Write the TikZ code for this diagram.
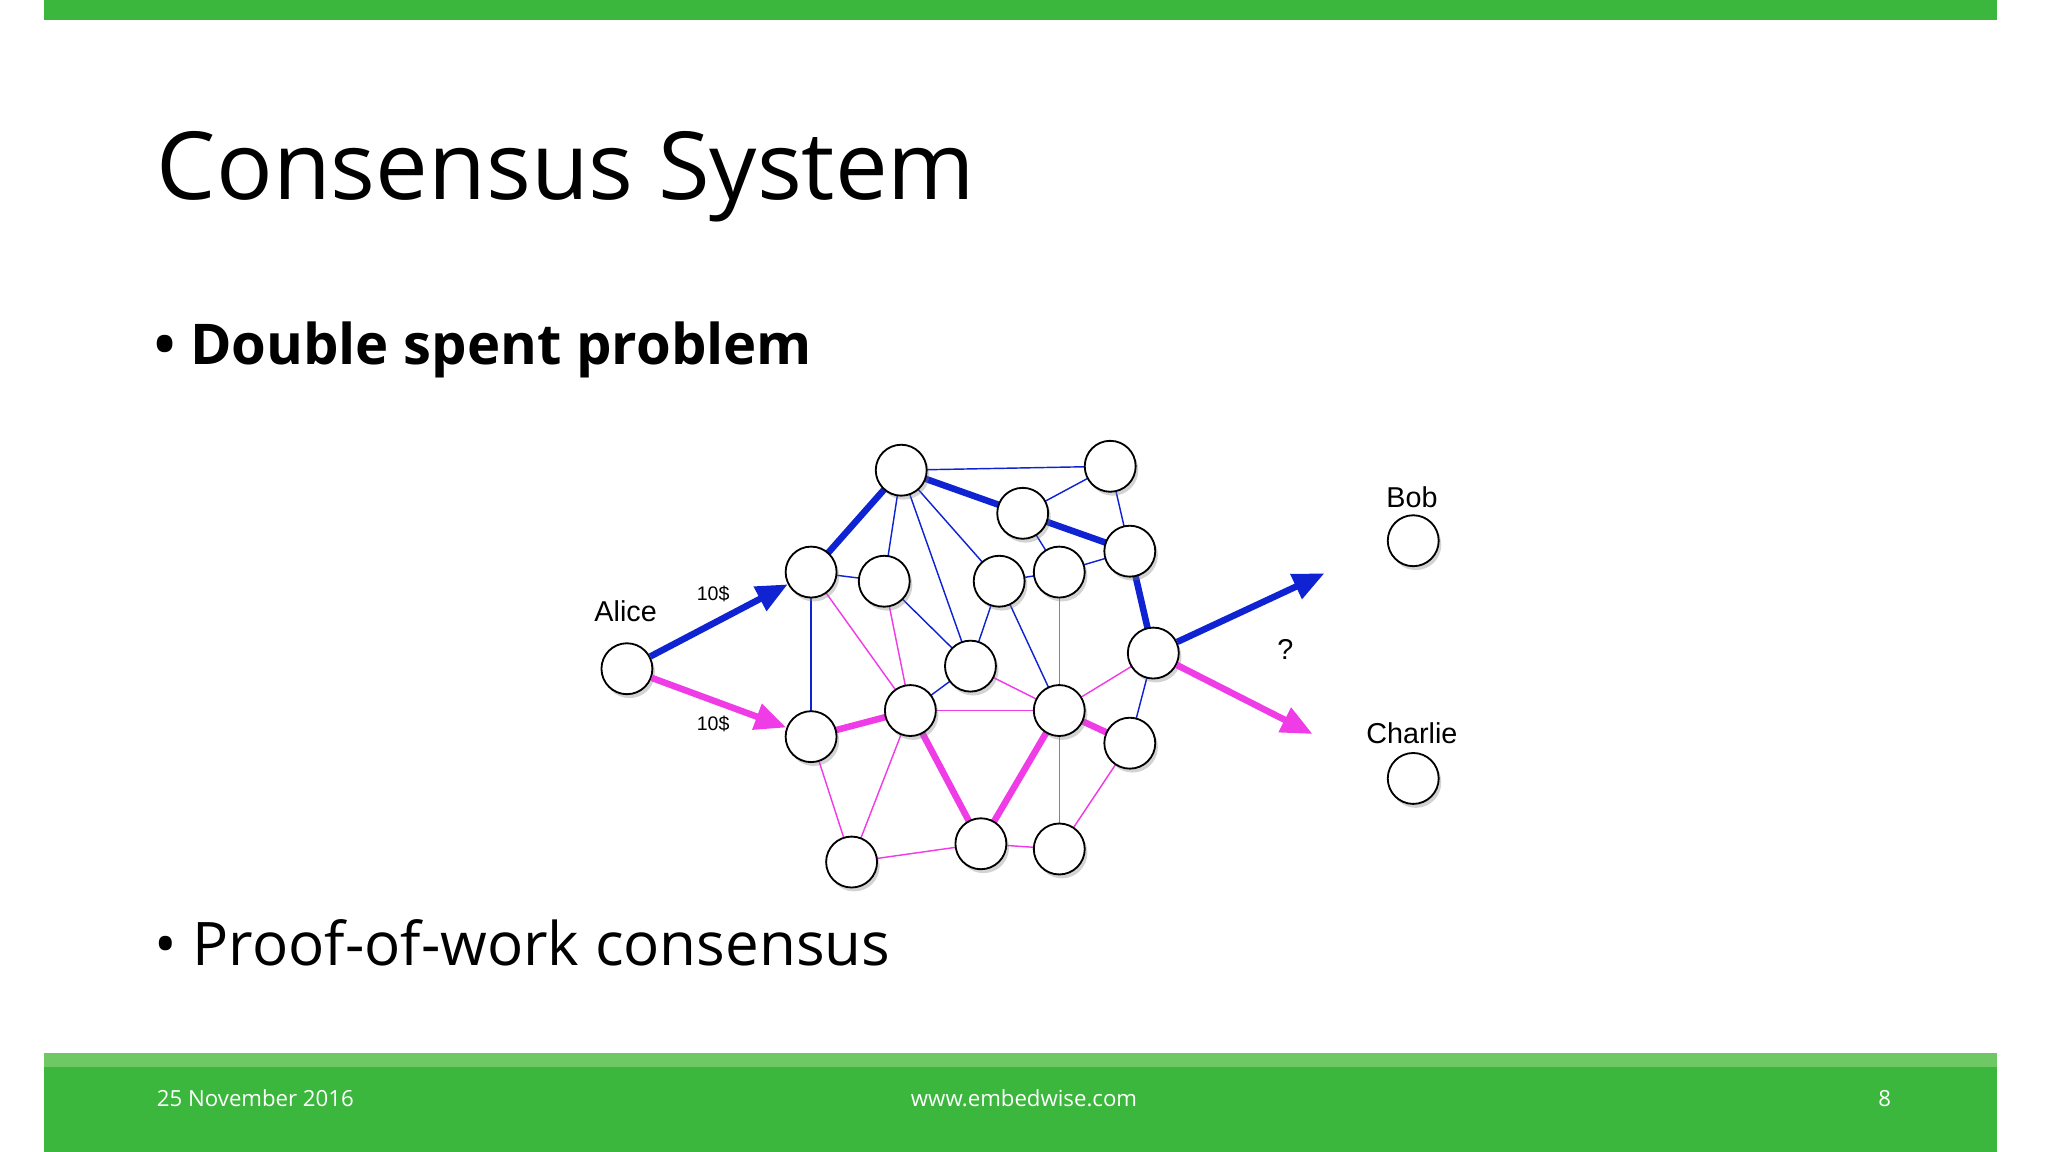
\documentclass[tikz,border=0pt]{standalone}
\usepackage{fontspec}
\setmainfont{Open Sans}
\newfontfamily\helv{Liberation Sans}
\usetikzlibrary{shadows,arrows.meta}
\definecolor{gbar}{RGB}{58,183,60}
\definecolor{gbarl}{RGB}{110,200,100}
\definecolor{nblue}{RGB}{15,35,210}
\definecolor{npink}{RGB}{240,60,230}
\tikzset{
 nd/.style={circle,draw=black,line width=1.4pt,fill=white,minimum size=39pt,inner sep=0pt,drop shadow={shadow xshift=2pt,shadow yshift=-3pt,opacity=0.35}},
 bt/.style={nblue,line width=1.1pt},
 bT/.style={nblue,line width=5pt},
 pt/.style={npink,line width=1.1pt},
 pT/.style={npink,line width=5pt},
 lbl/.style={font=\helv\fontsize{22}{25}\selectfont,inner sep=0pt},
 sml/.style={font=\helv\fontsize{15}{18}\selectfont,inner sep=0pt},
 arr/.style={-{Triangle[length=24pt,width=20pt]}}
}
\begin{document}
\begin{tikzpicture}[x=1pt,y=-1pt]
\useasboundingbox (0,0) rectangle (1568,882);
\fill[gbar] (34,0) rectangle (1529,15);
\fill[gbarl] (34,806) rectangle (1529,817);
\fill[gbar] (34,817) rectangle (1529,882);
\node[anchor=base west,inner sep=0pt,font=\fontsize{72}{80}\selectfont] (title) at (120,153) {Consensus System};
\node[anchor=base west,inner sep=0pt,font=\bfseries\fontsize{43}{50}\selectfont] (b1) at (118,279) {\textbullet\ Double spent problem};
\node[anchor=base west,inner sep=0pt,font=\fontsize{46}{50}\selectfont] (b2) at (118,739) {\textbullet\ Proof-of-work consensus};
\node[anchor=base west,inner sep=0pt,text=white,font=\fontsize{17}{18}\selectfont] (f1) at (120,847) {25 November 2016};
\node[anchor=base,inner sep=0pt,text=white,font=\fontsize{17}{18}\selectfont] (f2) at (784,847) {www.embedwise.com};
\node[anchor=base,inner sep=0pt,text=white,font=\fontsize{17}{18}\selectfont] (f3) at (1443,847) {8};
\foreach \n/\x/\y in {A1/690/360,A2/850/357,A3/783/393,A4/865/422,B1/621/438,B2/677/445,B3/765/445,B4/811/438,C1/743/510,C2/883/500,Al/480/512,D1/621/564,D2/697/544,D3/811/544,D4/865/569,E1/652/660,E2/751/646,E3/811/650,Bob/1082/414,Ch/1082/596}
  \coordinate (p\n) at (\x,\y);
\foreach \a/\b in {A1/A2,A2/A3,A2/A4,A1/B2,A1/C1,A1/B3,A3/B4,B4/B3,B4/A4,B1/B2,B2/C1,B3/C1,B3/D3,B1/D1,C1/D2,C2/D4}
  \draw[bt] (p\a) -- (p\b);
\foreach \a/\b in {B1/D2,B2/D2,C1/D3,D2/D3,B4/D3,C2/D3,D1/E1,D2/E1,E1/E2,E2/E3,D3/E3,D4/E3}
  \draw[pt] (p\a) -- (p\b);
\foreach \a/\b in {A1/B1,A1/A3,A3/A4,A4/C2}
  \draw[bT] (p\a) -- (p\b);
\foreach \a/\b in {D1/D2,D2/E2,D3/E2,D3/D4}
  \draw[pT] (p\a) -- (p\b);
\foreach \n in {A1,A2,A3,A4,B1,B2,B3,B4,C1,C2,Al,D1,D2,D3,D4,E1,E2,E3,Bob,Ch}
  \node[nd] (\n) at (p\n) {};
\coordinate (t1) at (1014,439);
\coordinate (t2) at (1005,562);
\draw[bT,arr] (Al) -- (B1);
\draw[pT,arr] (Al) -- (D1);
\draw[bT,arr] (C2) -- (t1);
\draw[pT,arr] (C2) -- (t2);
\node[lbl] (la) at (479,468) {Alice};
\node[lbl] (lb) at (1081,381) {Bob};
\node[lbl] (lc) at (1081,561) {Charlie};
\node[lbl] (lq) at (984,497) {?};
\node[sml] (m1) at (546,455) {10\$};
\node[sml] (m2) at (546,554) {10\$};
\end{tikzpicture}
\end{document}
